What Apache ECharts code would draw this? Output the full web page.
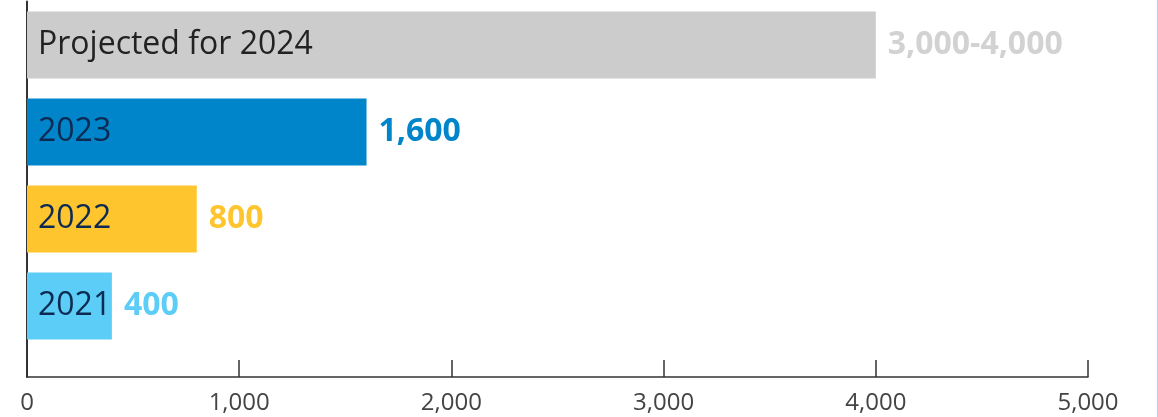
<!DOCTYPE html>
<html>
<head>
<meta charset="utf-8">
<script src="https://cdn.jsdelivr.net/npm/echarts@6/dist/echarts.min.js"></script>
<style>
	html, body { margin: 0; padding: 0; background: #fff; }
	#main { width: 1157px; height: 417px; border-right: 1px solid #9fd8e6; }
</style>
</head>
<body>
<div id="main"></div>
<script>
//数据
var categories = ['Projected for 2024', '2023', '2022', '2021'];
var values = [4000, 1600, 800, 400];
var value_labels = ['3,000-4,000', '1,600', '800', '400'];
var x_ticks = [0, 1000, 2000, 3000, 4000, 5000];

//样式
var bar_colors = ['#cccccc', '#0085ca', '#ffc52f', '#5bcdf7'];
var value_colors = ['#d2d2d2', '#0085ca', '#ffc52f', '#5bcdf7'];
var name_colors = ['#222222', '#0d2a52', '#0d2a52', '#0d2a52'];

var font = '"Open Sans", "DejaVu Sans", sans-serif';

function fmt(v) {
	return String(v).replace(/\B(?=(\d{3})+(?!\d))/g, ',');
}

var chart = echarts.init(document.getElementById('main'));

chart.setOption({
	animation: false,
	grid: [
		{ left: 27, right: 69, top: 1.5, height: 348 },
		{ left: 27, right: 69, top: 349.5, bottom: 40 }
	],
	xAxis: [
		{
			gridIndex: 0,
			type: 'value',
			min: x_ticks[0],
			max: x_ticks[x_ticks.length - 1],
			show: false
		},
		{
			gridIndex: 1,
			type: 'value',
			min: x_ticks[0],
			max: x_ticks[x_ticks.length - 1],
			interval: x_ticks[1] - x_ticks[0],
			splitLine: { show: false },
			axisLine: { show: true, lineStyle: { color: '#333', width: 1.5 } },
			axisTick: { show: true, inside: true, length: 17, lineStyle: { color: '#333', width: 1.5 } },
			axisLabel: {
				margin: 14,
				fontSize: 24,
				color: '#444',
				fontFamily: font,
				formatter: function (v) { return fmt(v); }
			}
		}
	],
	yAxis: [
		{
			gridIndex: 0,
			type: 'category',
			inverse: true,
			data: categories,
			axisLine: { show: true, lineStyle: { color: '#333', width: 2 } },
			axisTick: { show: false },
			axisLabel: { show: false }
		},
		{
			gridIndex: 1,
			type: 'category',
			data: [''],
			axisLine: { show: true, lineStyle: { color: '#333', width: 2 } },
			axisTick: { show: false },
			axisLabel: { show: false }
		}
	],
	series: [
		{
			type: 'bar',
			xAxisIndex: 0,
			yAxisIndex: 0,
			barWidth: 67,
			data: values.map(function (v, i) {
				return {
					value: v,
					itemStyle: { color: bar_colors[i] },
					label: { color: name_colors[i] }
				};
			}),
			label: {
				show: true,
				position: 'insideLeft',
				distance: 11,
				fontSize: 32,
				fontFamily: font,
				formatter: function (p) { return categories[p.dataIndex]; }
			}
		},
		{
			type: 'bar',
			xAxisIndex: 0,
			yAxisIndex: 0,
			barWidth: 67,
			barGap: '-100%',
			silent: true,
			data: values.map(function (v, i) {
				return {
					value: v,
					itemStyle: { color: 'rgba(0,0,0,0)' },
					label: { color: value_colors[i] }
				};
			}),
			label: {
				show: true,
				position: 'right',
				distance: 12,
				fontSize: 32,
				fontWeight: 'bold',
				fontFamily: font,
				formatter: function (p) { return value_labels[p.dataIndex]; }
			}
		}
	]
});
</script>
</body>
</html>
